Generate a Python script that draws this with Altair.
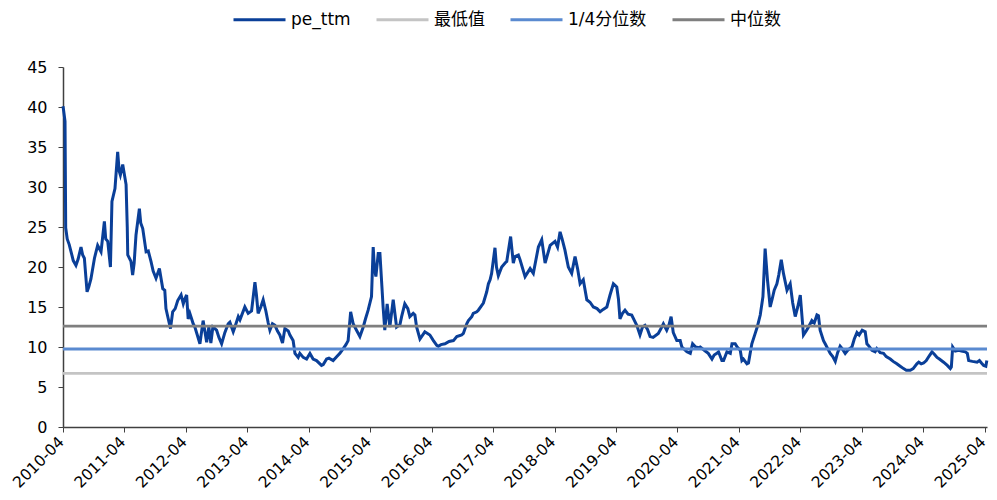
import altair as alt
import pandas as pd

dates = [
"2010-04-01","2010-04-05","2010-04-13","2010-04-17","2010-04-26","2010-05-08","2010-05-19","2010-06-01","2010-06-17","2010-06-30",
"2010-07-17","2010-07-27","2010-08-06","2010-08-22","2010-09-01","2010-09-14","2010-10-05","2010-10-24","2010-11-13","2010-12-03",
"2010-12-11","2010-12-23","2011-01-08","2011-01-17","2011-02-04","2011-02-20","2011-03-01","2011-03-08","2011-03-22","2011-04-11",
"2011-04-18","2011-04-21","2011-05-10","2011-05-20","2011-05-29","2011-06-09","2011-06-29","2011-07-07","2011-07-19","2011-08-08",
"2011-08-21","2011-09-06","2011-09-19","2011-10-06","2011-10-26","2011-11-15","2011-11-27","2011-12-04","2011-12-18","2011-12-31",
"2012-01-13","2012-01-28","2012-02-12","2012-03-03","2012-03-16","2012-03-25","2012-04-05","2012-04-14","2012-04-24","2012-05-14",
"2012-05-24","2012-06-23","2012-07-12","2012-08-02","2012-08-15","2012-08-27","2012-09-08","2012-09-30","2012-10-14","2012-10-30",
"2012-11-18","2012-12-08","2012-12-18","2013-01-07","2013-01-17","2013-02-06","2013-02-16","2013-03-17","2013-04-06","2013-04-26",
"2013-05-16","2013-05-25","2013-06-04","2013-06-20","2013-07-04","2013-07-20","2013-08-03","2013-08-13","2013-08-28","2013-09-12",
"2013-09-27","2013-10-11","2013-10-27","2013-11-10","2013-11-30","2013-12-10","2013-12-29","2014-01-09","2014-01-28","2014-02-07",
"2014-02-27","2014-03-19","2014-04-08","2014-04-27","2014-05-17","2014-06-16","2014-06-26","2014-07-16","2014-07-30","2014-08-24",
"2014-09-15","2014-10-03","2014-10-23","2014-11-08","2014-11-21","2014-12-06","2014-12-21","2015-01-10","2015-01-30","2015-02-19",
"2015-03-04","2015-03-20","2015-04-09","2015-04-19","2015-04-26","2015-05-05","2015-05-19","2015-05-29","2015-06-10","2015-06-17",
"2015-06-27","2015-07-11","2015-07-27","2015-08-16","2015-09-05","2015-09-25","2015-10-05","2015-10-24","2015-11-11","2015-11-23",
"2015-12-13","2015-12-23","2016-01-02","2016-01-22","2016-02-20","2016-03-21","2016-04-11","2016-05-01","2016-05-10","2016-05-26",
"2016-06-19","2016-07-13","2016-08-08","2016-08-28","2016-09-26","2016-10-06","2016-10-26","2016-11-05","2016-11-25","2016-12-04",
"2016-12-25","2017-01-03","2017-02-02","2017-02-22","2017-03-04","2017-03-14","2017-03-23","2017-04-12","2017-04-21","2017-05-02",
"2017-05-22","2017-06-11","2017-06-21","2017-07-14","2017-07-30","2017-08-09","2017-08-29","2017-09-08","2017-10-08","2017-11-07",
"2017-11-26","2017-12-26","2018-01-15","2018-02-04","2018-03-06","2018-04-04","2018-04-19","2018-05-04","2018-05-16","2018-06-02",
"2018-06-22","2018-07-12","2018-08-01","2018-08-16","2018-08-31","2018-09-19","2018-10-10","2018-10-29","2018-11-18","2018-12-10",
"2018-12-28","2019-01-15","2019-02-06","2019-02-25","2019-03-17","2019-04-06","2019-04-16","2019-04-25","2019-05-10","2019-05-25",
"2019-06-12","2019-07-04","2019-07-18","2019-08-03","2019-08-22","2019-09-06","2019-09-21","2019-10-06","2019-10-21","2019-11-08",
"2019-12-09","2019-12-25","2020-01-08","2020-01-28","2020-02-11","2020-02-23","2020-03-07","2020-03-28","2020-04-17","2020-04-27",
"2020-05-17","2020-05-27","2020-06-16","2020-06-30","2020-07-18","2020-08-04","2020-08-14","2020-09-13","2020-10-01","2020-10-23",
"2020-11-05","2020-11-21","2020-12-01","2020-12-21","2020-12-31","2021-01-20","2021-02-09","2021-02-19","2021-03-10","2021-03-22",
"2021-04-09","2021-04-19","2021-04-28","2021-05-19","2021-05-28","2021-06-17","2021-07-07","2021-07-19","2021-08-06","2021-08-22",
"2021-09-04","2021-09-18","2021-10-04","2021-10-16","2021-10-28","2021-11-13","2021-11-24","2021-12-09","2021-12-22","2022-01-12",
"2022-01-31","2022-02-15","2022-03-02","2022-03-17","2022-04-01","2022-04-20","2022-05-06","2022-05-20","2022-06-09","2022-06-23",
"2022-07-09","2022-07-18","2022-07-28","2022-08-17","2022-08-27","2022-09-11","2022-09-26","2022-10-11","2022-10-26","2022-11-09",
"2022-11-24","2022-12-06","2022-12-24","2023-01-08","2023-02-02","2023-02-16","2023-03-04","2023-03-17","2023-04-04","2023-04-22",
"2023-05-02","2023-05-11","2023-06-01","2023-06-20","2023-06-30","2023-07-20","2023-08-09","2023-08-25","2023-09-18","2023-10-05",
"2023-10-27","2023-11-16","2023-12-06","2023-12-22","2024-01-15","2024-02-01","2024-02-23","2024-03-05","2024-03-20","2024-04-03",
"2024-04-19","2024-05-07","2024-05-23","2024-06-06","2024-06-22","2024-07-06","2024-07-31","2024-08-22","2024-09-09","2024-09-15",
"2024-09-23","2024-10-09","2024-10-29","2024-11-14","2024-12-07","2024-12-19","2024-12-27","2025-01-18","2025-02-15","2025-03-01",
"2025-03-13","2025-03-26","2025-04-08","2025-04-14",
]

pe_ttm = [
40.1,39.5,38.2,24.9,23.5,22.8,21.9,20.8,20.2,21.0,
22.5,21.5,21.1,16.9,17.5,18.5,21.1,22.7,21.9,25.7,
23.5,23.2,20.0,28.2,29.8,34.4,32.0,31.5,32.8,30.3,
25.0,21.5,20.7,19.0,20.5,24.0,27.3,25.5,24.8,21.9,
22.0,20.7,19.5,18.6,19.8,17.3,17.1,14.8,13.5,12.3,
14.4,14.8,15.8,16.5,15.4,16.0,16.5,13.5,14.2,12.9,
12.5,10.4,13.3,10.6,12.5,10.5,12.5,12.1,11.2,10.4,
11.8,12.9,13.1,11.9,12.5,13.8,13.4,15.0,14.2,14.5,
18.1,16.5,14.2,15.0,15.9,14.5,13.0,12.1,12.9,12.7,
12.0,11.5,10.5,12.3,12.0,11.5,10.8,9.2,8.7,9.2,
8.7,8.5,9.2,8.5,8.3,7.7,7.8,8.5,8.6,8.3,
8.8,9.2,9.8,10.3,10.8,14.4,12.9,12.1,11.3,12.5,
13.5,14.6,16.3,22.5,20.0,18.8,21.7,21.7,17.5,15.0,
12.1,15.4,12.5,15.9,12.5,12.8,13.8,15.4,14.8,13.8,
14.2,14.0,12.5,11.0,11.9,11.5,10.8,10.2,10.1,10.3,
10.4,10.7,10.8,11.3,11.5,11.7,12.9,13.3,13.8,14.2,
14.4,14.6,15.5,16.9,17.9,18.4,19.2,22.4,20.0,18.9,
20.0,20.5,20.7,23.8,20.5,21.3,21.5,20.9,18.8,19.8,
19.2,22.5,23.4,20.5,22.7,23.2,22.5,24.4,23.5,22.1,
20.0,19.2,21.3,19.8,17.9,18.4,15.9,15.6,15.0,14.8,
14.4,14.7,15.0,16.5,17.9,17.5,16.0,13.5,14.2,14.6,
14.1,14.0,13.4,12.7,11.5,12.5,12.7,12.2,11.3,11.2,
11.7,12.3,12.9,12.1,12.8,13.8,11.8,10.8,10.8,10.0,
9.6,9.4,9.2,10.4,10.0,9.9,10.0,9.5,9.2,8.5,
9.0,9.2,9.4,8.3,8.3,9.4,9.2,10.4,10.4,10.0,
9.6,8.3,8.5,7.9,8.0,10.4,11.7,12.5,14.0,16.3,
22.3,18.4,15.0,16.0,17.1,17.9,19.0,20.9,19.2,17.1,
17.9,15.5,13.8,15.0,16.5,11.5,12.0,12.5,13.3,13.0,
14.0,13.9,12.1,10.8,10.4,9.8,9.2,8.8,8.2,9.3,
10.1,9.8,9.2,9.6,10.0,11.0,11.8,11.5,12.1,11.9,
10.4,10.2,9.6,9.4,9.8,9.3,9.2,8.8,8.5,8.2,
7.9,7.6,7.3,7.1,7.1,7.3,7.9,8.1,7.9,8.0,
8.3,8.9,9.4,9.1,8.7,8.5,8.1,7.7,7.3,7.5,
10.0,9.5,9.6,9.5,9.4,9.2,8.3,8.2,8.1,8.3,
8.0,7.7,7.6,8.3,
]

series_names = ["pe_ttm", "最低值", "1/4分位数", "中位数"]
series_colors = ["#0a3f98", "#c4c4c4", "#5a8ad0", "#7f7f7f"]
ref_names = ["最低值", "1/4分位数", "中位数"]
ref_values = [6.7, 9.75, 12.6]
tick_years = list(range(2010, 2026))
y_ticks = [0, 5, 10, 15, 20, 25, 30, 35, 40, 45]

pe_df = pd.DataFrame({"date": pd.to_datetime(dates), "value": pe_ttm, "series": "pe_ttm"})
ref_df = pd.DataFrame({"value": ref_values, "series": ref_names})

FONT = "DejaVu Sans, Noto Sans CJK SC"

color = alt.Color(
    "series:N",
    scale=alt.Scale(domain=series_names, range=series_colors),
    legend=alt.Legend(
        title=None, orient="none", direction="horizontal",
        legendX=169, legendY=-75, symbolType="stroke", symbolSize=2704,
        symbolStrokeWidth=3, labelFontSize=17, labelFont=FONT, labelColor="#000000",
        labelOffset=4, columnPadding=19, padding=0,
    ),
)

x = alt.X(
    "date:T",
    title=None,
    scale=alt.Scale(domain=[alt.DateTime(year=2010, month=4, date=1),
                            alt.DateTime(year=2025, month=4, date=15)]),
    axis=alt.Axis(
        values=[alt.DateTime(year=yy, month=4, date=1) for yy in tick_years],
        format="%Y-%m", labelAngle=-45, labelAlign="right", labelBaseline="middle",
        labelFontSize=15.5, labelFont=FONT,
        labelColor="#000000", tickSize=5, tickColor="#404040", domainColor="#404040",
        domainWidth=1.5, grid=False, labelPadding=7, labelOffset=-2, labelFlush=False,
    ),
)

y = alt.Y(
    "value:Q",
    title=None,
    scale=alt.Scale(domain=[0, 45], nice=False),
    axis=alt.Axis(
        values=y_ticks, labelFontSize=16, labelFont=FONT, labelColor="#000000",
        tickSize=5, tickColor="#404040", domainColor="#404040", domainWidth=1.5,
        grid=False, labelPadding=11,
    ),
)

line = alt.Chart(pe_df).mark_line(strokeWidth=3).encode(x=x, y=y, color=color)
rules = alt.Chart(ref_df).mark_rule(strokeWidth=2.8).encode(y=y, color=color)

chart = (
    alt.layer(line, rules)
    .properties(
        width=924, height=360,
        autosize=alt.AutoSizeParams(type="none"),
        padding={"left": 55, "top": 59, "right": 2, "bottom": 72},
    )
    .configure_view(stroke=None)
)

chart.save("out.html", embed_options={"renderer": "svg", "actions": False})
